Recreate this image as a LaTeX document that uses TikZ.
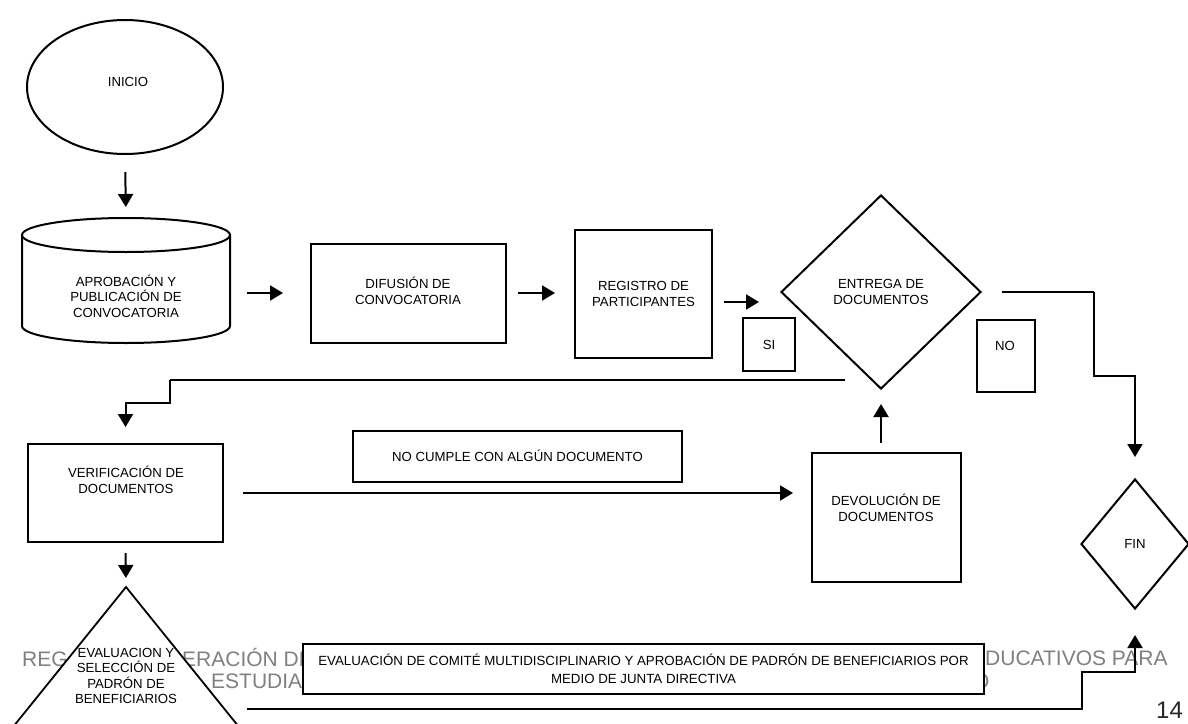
\documentclass[tikz,border=0pt]{standalone}
\usepackage{fontspec}
\setmainfont{Liberation Sans}
\usetikzlibrary{arrows.meta,shapes.geometric,calc}
\begin{document}
\begin{tikzpicture}[x=1pt,y=-1pt,
  box/.style={draw, line width=2pt, fill=white, inner sep=0pt},
  lbl/.style={align=center, font=\fontsize{13.2}{15.5}\selectfont, inner sep=0pt},
  arr/.style={line width=2pt, -{Triangle[length=13pt,width=15pt]}},
  ghost/.style={text=black!50, font=\fontsize{21}{22}\selectfont, inner sep=0pt, anchor=base west},
]
\useasboundingbox[fill=white] (0,0) rectangle (1188,723);

% grey page header text partly hidden behind the shapes
\node[ghost] (g1) at (22,666) {REG};
\node[ghost] (g2) at (182,666) {ERACIÓN DE};
\node[ghost] (g3) at (211,688) {ESTUDIA};
\node[ghost] (g4) at (985,665) {DUCATIVOS PARA};
\node[ghost] (g5) at (973,688) {O};

% INICIO
\node[draw, ellipse, line width=2pt, fill=white, minimum width=196pt, minimum height=134pt] (inicio) at (125,87) {};
\node[lbl] (iniciotxt) at (128,82) {INICIO};

% cylinder
\draw[line width=2pt, fill=white] (22,235) -- (22,326) arc[start angle=180, end angle=360, x radius=104pt, y radius=17pt] -- (230,235);
\draw[line width=2pt, fill=white] (126,235) ellipse[x radius=104pt, y radius=17pt];
\node[lbl] (aprob) at (126,296) {APROBACIÓN Y\\PUBLICACIÓN DE\\CONVOCATORIA};
\coordinate (aprobtop) at (126,218);
\coordinate (aprobright) at (230,293);

% boxes
\node[box, minimum width=195pt, minimum height=99pt] (difusion) at (408.5,293) {};
\node[lbl] (difusiontxt) at (408,291) {DIFUSIÓN DE\\CONVOCATORIA};
\node[box, lbl, minimum width=137pt, minimum height=128pt] (registro) at (643.5,294) {REGISTRO DE\\PARTICIPANTES};
\node[box, lbl, minimum width=52pt, minimum height=53pt] (si) at (769,344.5) {SI};
\node[draw, diamond, line width=2pt, fill=white, lbl, minimum width=200pt, minimum height=194pt] (entrega) at (881,292) {ENTREGA DE\\DOCUMENTOS};
\node[box, minimum width=58pt, minimum height=72pt] (no) at (1006,356) {};
\node[lbl] (notxt) at (1005,346) {NO};

\node[box, minimum width=195pt, minimum height=98pt] (verif) at (125.5,493) {};
\node[lbl] (veriftxt) at (126,480) {VERIFICACIÓN DE\\DOCUMENTOS};
\node[box, lbl, minimum width=329pt, minimum height=51pt] (nocumple) at (517.5,456) {NO CUMPLE CON ALGÚN DOCUMENTO};
\node[box, minimum width=149pt, minimum height=129pt] (devol) at (886.5,517.5) {};
\node[lbl] (devoltxt) at (886,508) {DEVOLUCIÓN DE\\DOCUMENTOS};
\node[draw, diamond, line width=2pt, fill=white, lbl, minimum width=108pt, minimum height=130pt] (fin) at (1135,544) {FIN};

% triangle
\coordinate (triapex) at (126,587);
\draw[line width=1.8pt, fill=white] (triapex) -- (249.5,740) -- (2.5,740) -- cycle;
\node[lbl] (evaltri) at (126,676) {EVALUACION Y\\SELECCIÓN DE\\PADRÓN DE\\BENEFICIARIOS};

% committee box
\node[box, lbl, font=\fontsize{13.3}{18}\selectfont, minimum width=681pt, minimum height=50pt] (comite) at (643.5,669) {EVALUACIÓN DE COMITÉ MULTIDISCIPLINARIO Y APROBACIÓN DE PADRÓN DE BENEFICIARIOS POR\\MEDIO DE JUNTA DIRECTIVA};

% page number
\node[anchor=base west, inner sep=0pt, font=\fontsize{24}{26}\selectfont, text=black!85] (page) at (1156,718) {14};

% connectors
\draw[arr, shorten <=17pt, shorten >=11pt] (inicio.south) -- (aprobtop);
\draw[arr, shorten <=17pt, shorten >=27pt] (aprobright) -- (aprobright -| difusion.west);
\draw[arr, shorten <=11pt, shorten >=19pt] (difusion.east) -- (difusion.east -| registro.west);
\draw[arr, shorten <=11pt, shorten >=21pt] ([yshift=-8pt]registro.east) -- ([yshift=-8pt]registro.east -| entrega.west);

\coordinate (sino) at (845,380);
\coordinate (k1) at (170,380);
\draw[line width=1.4pt] (sino) -- (k1);
\draw[arr, shorten >=16pt] (k1) -- ++(0,23) -| (verif.north);

\draw[line width=1.4pt] ([xshift=20pt]entrega.east) -- ++(92,0);
\draw[arr, shorten >=21pt] ([xshift=112pt]entrega.east) -- ++(0,84) -| (fin.north);

\draw[arr, shorten <=19pt, shorten >=18pt] (verif.east) -- (verif.east -| devol.west);
\draw[arr, shorten <=9pt, shorten >=14pt] (entrega.south |- devol.north) -- (entrega.south);
\draw[arr, shorten <=10pt, shorten >=9pt] (verif.south) -- (triapex);

\coordinate (triout) at (247,709);
\draw[arr, shorten >=25pt] (triout) -- (1082,709) -- (1082,672) -| (fin.south);
\end{tikzpicture}
\end{document}
